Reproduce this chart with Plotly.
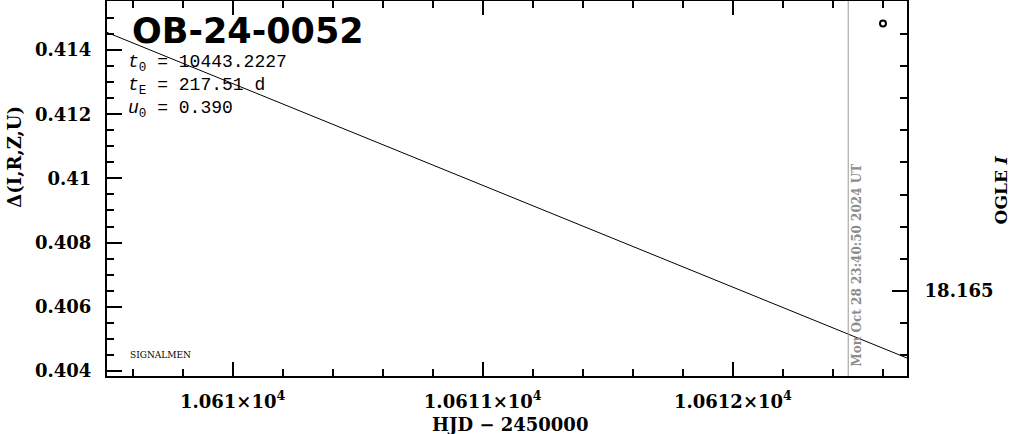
import plotly.graph_objects as go

# ---- data ----
model_hjd = [10609.498, 10610.0, 10610.5, 10611.0, 10611.5, 10612.0, 10612.5, 10612.696]
model_delta = [0.41455, 0.41296, 0.41137, 0.40979, 0.40820, 0.40661, 0.40502, 0.40440]

obs_hjd = [10612.60]
obs_mag = [18.15667]

x_tickvals = [10610, 10611, 10612]
x_ticktext = ["1.061×10<sup>4</sup>", "1.0611×10<sup>4</sup>", "1.0612×10<sup>4</sup>"]
y_tickvals = [0.404, 0.406, 0.408, 0.41, 0.412, 0.414]
y_ticktext = ["0.404", "0.406", "0.408", "0.41", "0.412", "0.414"]
y2_tickvals = [18.165]
y2_ticktext = ["18.165"]

now_hjd = 10612.461
now_label = "Mon Oct 28 23:40:50 2024 UT"
event_name = "OB-24-0052"
params = ["<i>t</i><sub>0</sub> = 10443.2227",
          "<i>t</i><sub>E</sub> = 217.51 d",
          "<i>u</i><sub>0</sub> = 0.390"]

x_range = [10609.498, 10612.696]
y_range = [0.40384, 0.41553]
y2_range = [18.16765, 18.15597]

TICKFONT = dict(family="DejaVu Serif", size=18, color="black", weight="bold")

fig = go.Figure()
fig.add_trace(go.Scatter(x=model_hjd, y=model_delta, mode="lines",
                         line=dict(color="black", width=1), showlegend=False))
fig.add_trace(go.Scatter(x=obs_hjd, y=obs_mag, yaxis="y2", mode="markers",
                         marker=dict(symbol="circle-open", size=6, color="black",
                                     line=dict(width=2, color="black")),
                         showlegend=False))

fig.add_shape(type="line", xref="x", yref="paper", x0=now_hjd, x1=now_hjd, y0=0, y1=1,
              line=dict(color="#999999", width=1))

fig.update_layout(
    width=1011, height=434,
    margin=dict(l=107, r=104, t=1, b=58, autoexpand=False),
    paper_bgcolor="white", plot_bgcolor="white",
    xaxis=dict(range=x_range, tickvals=x_tickvals, ticktext=x_ticktext,
               ticks="inside", ticklen=14, tickwidth=2, tickcolor="black",
               showline=True, linecolor="black", linewidth=2, mirror="ticks",
               showgrid=False, zeroline=False, tickfont=TICKFONT,
               ticklabelstandoff=8,
               minor=dict(dtick=0.2, tick0=10610, ticks="inside", ticklen=7,
                          tickwidth=2, tickcolor="black", showgrid=False)),
    yaxis=dict(range=y_range, tickvals=y_tickvals, ticktext=y_ticktext,
               ticks="inside", ticklen=15, tickwidth=2, tickcolor="black",
               showline=True, linecolor="black", linewidth=2,
               showgrid=False, zeroline=False, tickfont=TICKFONT,
               ticklabelstandoff=10,
               minor=dict(dtick=0.0005, tick0=0.404, ticks="inside", ticklen=7,
                          tickwidth=2, tickcolor="black", showgrid=False)),
    yaxis2=dict(range=y2_range, overlaying="y", side="right",
                tickvals=y2_tickvals, ticktext=y2_ticktext,
                ticks="inside", ticklen=15, tickwidth=2, tickcolor="black",
                showline=True, linecolor="black", linewidth=2,
                showgrid=False, zeroline=False, tickfont=TICKFONT,
                ticklabelstandoff=12,
                minor=dict(dtick=0.001, tick0=18.165, ticks="inside", ticklen=7,
                           tickwidth=2, tickcolor="black", showgrid=False)),
)

ann = []
ann.append(dict(text=event_name, xref="paper", yref="paper", x=0.029, y=0.92,
                xanchor="left", yanchor="middle", showarrow=False,
                font=dict(family="DejaVu Sans", size=35, color="black", weight="bold")))
for txt, yy in zip(params, [0.834, 0.773, 0.712]):
    ann.append(dict(text=txt, xref="paper", yref="paper", x=0.024, y=yy,
                    xanchor="left", yanchor="middle", showarrow=False,
                    font=dict(family="Liberation Mono", size=18, color="black")))
ann.append(dict(text="SIGNALMEN", xref="paper", yref="paper", x=0.026, y=0.056,
                xanchor="left", yanchor="middle", showarrow=False,
                font=dict(family="DejaVu Serif", size=9, color="black")))
ann.append(dict(text=now_label, xref="x", yref="paper", x=10612.497, y=0.295,
                xanchor="center", yanchor="middle", showarrow=False, textangle=-90,
                font=dict(family="DejaVu Serif", size=12, color="#8c8c8c", weight="bold")))
ann.append(dict(text="Δ(I,R,Z,U)", xref="paper", yref="paper", x=-0.115, y=0.585,
                xanchor="center", yanchor="middle", showarrow=False, textangle=-90,
                font=dict(family="DejaVu Serif", size=18, color="black", weight="bold")))
ann.append(dict(text="OGLE <i>I</i>", xref="paper", yref="paper", x=1.118, y=0.496,
                xanchor="center", yanchor="middle", showarrow=False, textangle=-90,
                font=dict(family="DejaVu Serif", size=17, color="black", weight="bold")))
ann.append(dict(text="HJD − 2450000", xref="paper", yref="paper", x=0.504, y=-0.128,
                xanchor="center", yanchor="middle", showarrow=False,
                font=dict(family="DejaVu Serif", size=18, color="black", weight="bold")))
fig.update_layout(annotations=ann)

fig.write_html("out.html", config={"displayModeBar": False},
               post_script="document.body.style.margin='0';document.body.style.overflow='hidden';")
